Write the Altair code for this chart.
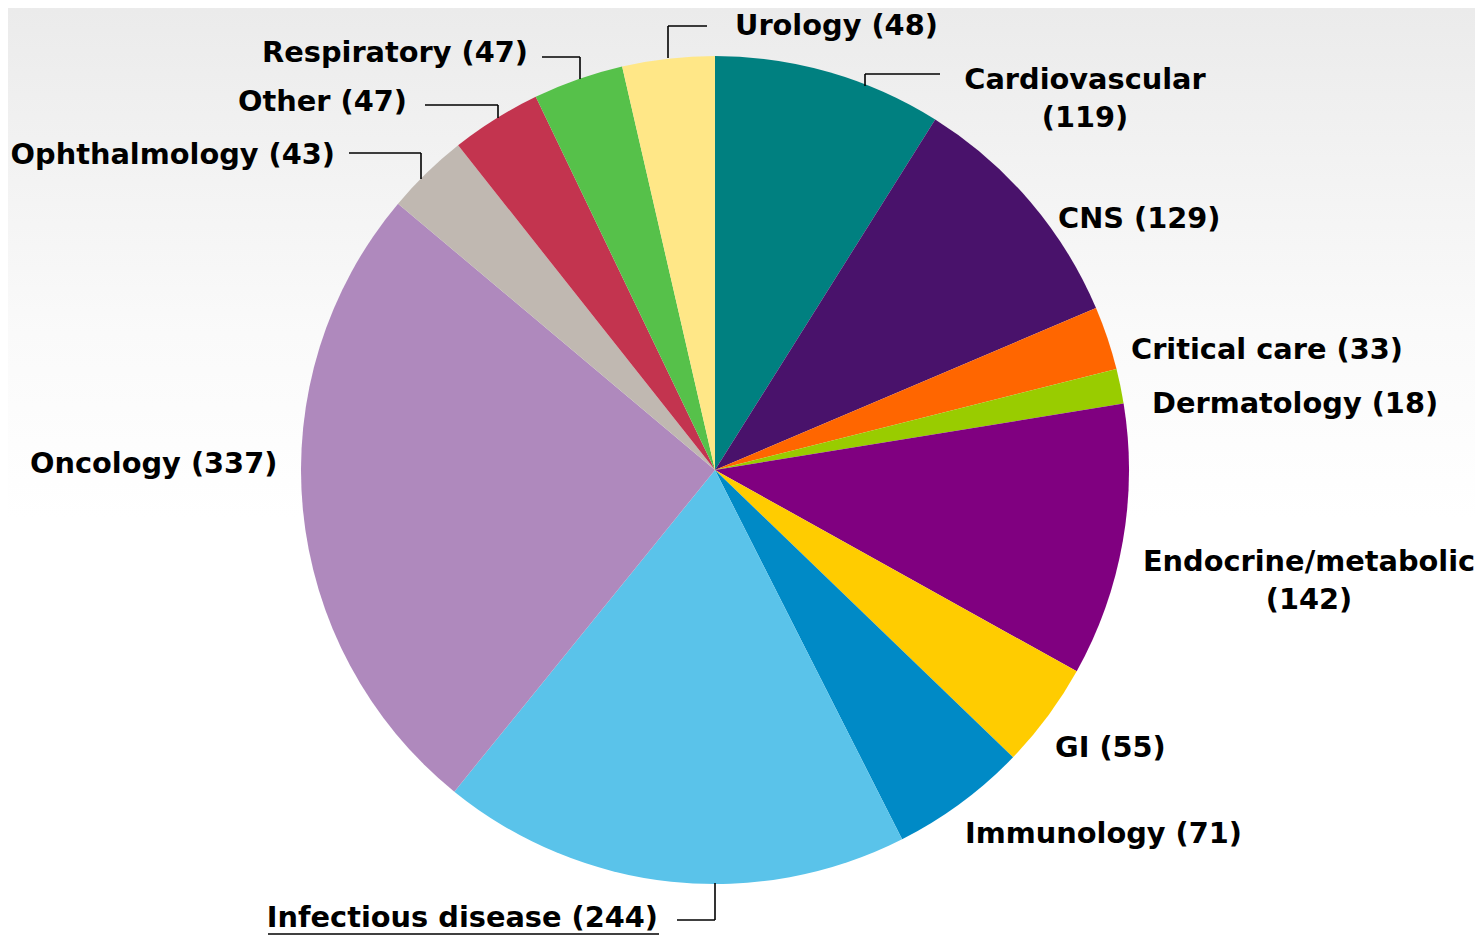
import altair as alt
import pandas as pd

# ---- data ----
categories = ["Cardiovascular", "CNS", "Critical care", "Dermatology",
              "Endocrine/metabolic", "GI", "Immunology", "Infectious disease",
              "Oncology", "Ophthalmology", "Other", "Respiratory", "Urology"]
counts = [119, 129, 33, 18, 142, 55, 71, 244, 337, 43, 47, 47, 48]
colors = ["#008080", "#49126B", "#FF6600", "#99CC00", "#800080", "#FFCC00",
          "#008AC6", "#5AC3EA", "#AF89BD", "#C0B8B1", "#C3344F", "#56C14A",
          "#FFE787"]

# label text lines
label_text = ["Urology (48)", "Cardiovascular", "(119)", "CNS (129)",
              "Critical care (33)", "Dermatology (18)", "Endocrine/metabolic",
              "(142)", "GI (55)", "Immunology (71)", "Infectious disease (244)",
              "Oncology (337)", "Ophthalmology (43)", "Other (47)",
              "Respiratory (47)"]

# ---- layout (page pixel coordinates; page margin is 8px) ----
M = 8
W, H = 1467, 928
CX, CY, R = 715 - M, 470 - M, 414

label_align = ["left", "center", "center", "left", "left", "left", "center",
               "center", "left", "left", "right", "left", "right", "right",
               "right"]
label_x = [735, 1085, 1085, 1058, 1131, 1152, 1309, 1309, 1055, 965, 658,
           30, 335, 407, 528]
label_y = [26, 80, 118, 219, 350, 404, 562, 600, 748, 834, 918, 464, 155,
           102, 53]

seg_x = [668, 668, 542, 580, 425, 498, 349, 421, 940, 865, 677, 715, 268]
seg_y = [58, 26, 57, 57, 105, 105, 153, 153, 74, 74, 920, 920, 934]
seg_x2 = [668, 707, 580, 580, 498, 498, 421, 421, 865, 865, 715, 715, 659]
seg_y2 = [26, 26, 57, 79, 105, 118, 153, 179, 74, 86, 920, 883, 934]

pie_df = pd.DataFrame({"name": categories, "value": counts,
                       "idx": list(range(len(categories)))})
lab_df = pd.DataFrame({"text": label_text, "align": label_align,
                       "lx": [v - M for v in label_x],
                       "ly": [v - M for v in label_y]})
seg_df = pd.DataFrame({"x": [v - M for v in seg_x], "y": [v - M for v in seg_y],
                       "x2": [v - M for v in seg_x2], "y2": [v - M for v in seg_y2]})

bg = alt.Chart(pd.DataFrame({"a": [0]})).mark_rect(
    fill=alt.Gradient(
        gradient="linear",
        stops=[alt.GradientStop(color="#EBEBEB", offset=0),
               alt.GradientStop(color="#FAFAFA", offset=0.35),
               alt.GradientStop(color="#FFFFFF", offset=0.55),
               alt.GradientStop(color="#FFFFFF", offset=1)],
        x1=0, x2=0, y1=0, y2=1),
    strokeWidth=0
).encode(x=alt.value(0), x2=alt.value(W), y=alt.value(0), y2=alt.value(H))

pie = alt.Chart(pie_df).mark_arc(radius=R, strokeWidth=0).encode(
    theta=alt.Theta("value:Q", stack=True),
    order=alt.Order("idx:Q"),
    color=alt.Color("name:N", scale=alt.Scale(domain=categories, range=colors),
                    legend=None),
    x=alt.value(CX),
    y=alt.value(CY),
)

segs = alt.Chart(seg_df).mark_rule(color="#000000", strokeWidth=1.6).encode(
    x=alt.X("x:Q", scale=None), y=alt.Y("y:Q", scale=None),
    x2="x2:Q", y2="y2:Q")

def text_layer(al):
    return alt.Chart(lab_df).transform_filter(
        alt.datum.align == al
    ).mark_text(align=al, baseline="middle", font="DejaVu Sans",
                fontWeight="bold", fontSize=28.8, color="#000000").encode(
        x=alt.X("lx:Q", scale=None), y=alt.Y("ly:Q", scale=None),
        text="text:N")

chart = alt.layer(
    bg, pie, segs, text_layer("left"), text_layer("right"), text_layer("center")
).properties(
    width=W, height=H, padding=0,
    autosize=alt.AutoSizeParams(type="fit", contains="padding"),
).configure_view(stroke=None).configure(background="#FFFFFF")

chart.save("out.html", embed_options={"renderer": "svg", "actions": False})
